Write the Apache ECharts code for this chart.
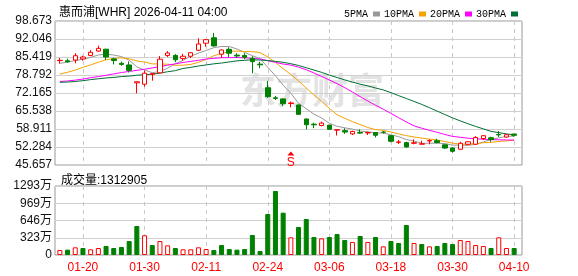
<!DOCTYPE html>
<html><head><meta charset="utf-8">
<script src="https://cdn.jsdelivr.net/npm/echarts@6/dist/echarts.min.js"></script>
<style>html,body{margin:0;padding:0;background:#fff}#c{width:578px;height:276px}</style>
</head><body><div id="c"></div>
<script>
const dates = ['01-14','01-15','01-16','01-20','01-21','01-22','01-23','01-26','01-27','01-28','01-29','01-30',
'02-02','02-03','02-04','02-05','02-06','02-09','02-10','02-11','02-12','02-13','02-17','02-18','02-19','02-20','02-23','02-24','02-25','02-26','02-27',
'03-02','03-03','03-04','03-05','03-06','03-09','03-10','03-11','03-12','03-13','03-16','03-17','03-18','03-19','03-20','03-23','03-24','03-25','03-26','03-27','03-30','03-31',
'04-01','04-02','04-06','04-07','04-08','04-09','04-10'];
const opens  = [84.1,84.05,84.3,84.7,86.0,87.6,88.3,84.7,83.1,82.5,75.9,75.4,79.05,79.6,86.0,86.0,84.9,85.7,87.9,90.5,
92.5,86.45,88.25,86.1,86.0,84.9,82.8,74.1,70.4,70.0,68.3,67.75,62.6,60.7,60.2,60.35,58.5,58.3,57.1,57.6,
57.45,57.6,57.75,56.45,54.0,53.9,53.65,53.3,54.5,54.6,53.1,51.9,51.45,53.3,53.3,55.4,55.7,56.9,55.95,57.05];
const closes = [84.2,83.7,85.9,85.4,87.15,88.6,85.4,84.1,82.7,80.5,76.3,79.45,79.35,84.6,86.9,84.4,85.7,87.0,90.2,91.8,
89.5,88.0,86.8,85.8,85.3,83.7,82.55,70.8,70.2,68.2,68.5,64.3,60.5,60.45,61.1,58.8,58.65,57.8,58.0,57.4,
57.6,56.6,57.7,54.4,54.15,52.3,53.85,53.5,54.65,53.95,51.9,50.7,53.65,54.2,55.8,56.45,55.0,56.75,56.8,56.6];
const lows   = [82.96,83.3,83.1,84.05,85.7,87.3,84.3,82.7,82.2,79.7,72.05,74.5,76.7,79.4,85.4,83.5,84.1,85.0,87.6,89.2,
89.2,85.1,85.3,85.05,84.6,79.4,81.3,70.4,69.6,67.3,66.9,64.1,58.8,59.2,59.9,58.65,56.5,57.1,56.7,57.1,
56.7,55.8,57.2,54.0,53.4,52.0,53.3,53.25,53.3,53.65,51.55,50.2,51.4,52.9,53.0,54.85,54.2,56.0,55.7,56.1];
const highs  = [85.05,84.8,86.8,85.9,88.0,89.6,88.4,85.2,83.7,83.8,76.4,80.4,79.5,85.8,87.6,86.5,86.6,87.2,92.3,92.0,
94.3,88.25,89.0,86.8,86.8,85.7,83.7,76.6,71.1,70.2,69.0,67.9,62.7,61.2,61.6,60.4,58.8,59.2,58.3,58.8,
57.9,57.8,58.15,56.6,54.85,54.2,55.1,54.6,55.1,55.35,53.15,52.2,54.2,54.5,56.3,56.6,56.1,58.2,57.05,57.1];
const volumes = [940000,1000000,1440000,1310000,1060000,1310000,1690000,1310000,1500000,2620000,5430000,3690000,1870000,2620000,1810000,1310000,1060000,1060000,1440000,1120000,
940000,1870000,1120000,1000000,1120000,3750000,750000,7680000,11990000,7930000,3310000,5250000,6750000,3370000,3120000,3370000,3940000,2810000,2440000,3560000,
2440000,3370000,1620000,2620000,2250000,5620000,2250000,2060000,1620000,1690000,2250000,2060000,2810000,2620000,1870000,1690000,1310000,3310000,1310000,1312905];
// moving-average values before enough visible closes exist
const ma5Head  = [83.1,83.5,84.1,84.6];
const ma10Head = [79.1,79.8,80.6,81.6,82.5,83.5,84.4,84.9,85.1];
const ma20Head = [76.4,76.6,76.9,77.3,77.8,78.2,78.7,79.2,79.7,80.1,80.5,80.9,81.4,81.9,82.4,82.9,83.4,83.8,84.2];
const ma30Head = [76.1,76.2,76.4,76.7,77.1,77.4,77.7,77.9,78.2,78.4,78.7,78.9,79.1,79.5,80.0,80.4,81.2,81.6,82.1,82.5,82.9,83.2,83.6,84.0,84.2,84.4,84.3,84.1,83.8];
const priceTicks = [45.657,52.284,58.911,65.538,72.165,78.792,85.419,92.046,98.673];
const volTicksWan = [0,323,646,969,1293];
const xLabelDates = ['01-20','01-30','02-11','02-24','03-06','03-18','03-30','04-10'];
const maNames = ['5PMA','10PMA','20PMA','30PMA'];
const titleText = '惠而浦[WHR] 2026-04-11 04:00';
const markDate = '02-27';

function ma(n, head){
  return closes.map((c,i)=>{
    if(i < head.length) return head[i];
    let s=0; for(let k=i-n+1;k<=i;k++) s+=closes[k];
    return +(s/n).toFixed(3);
  });
}
const RED='#ff0000', GREEN='#008000';
const candleData = dates.map((d,i)=>[opens[i],closes[i],lows[i],highs[i]]);
const volData = volumes.map((v,i)=>{
  const up = i===0 ? closes[i]>=opens[i] : closes[i]>=closes[i-1];
  return {value:v, itemStyle: up ? {color:'#fff',borderColor:RED,borderWidth:1} : {color:GREEN,borderColor:GREEN,borderWidth:1}};
});
const pMin = priceTicks[0], pMax = priceTicks[priceTicks.length-1], pStep = priceTicks[1]-priceTicks[0];
const vMax = volTicksWan[volTicksWan.length-1]*10000;
const showIdx = (idx,val)=> xLabelDates.indexOf(val) >= 0;
const FONT = 'Liberation Sans, Noto Sans CJK SC, sans-serif';

const chart = echarts.init(document.getElementById('c'), null, {renderer:'canvas'});
const maColors = ['#999999','#f5a300','#ff00ff','#006f35'];
const maSeries = [[5,ma5Head],[10,ma10Head],[20,ma20Head],[30,ma30Head]].map((p,k)=>({
  name: maNames[k], type:'line', xAxisIndex:1, yAxisIndex:1, data: ma(p[0],p[1]),
  showSymbol:false, symbol:'none', smooth:false, z:3,
  lineStyle:{color:maColors[k], width:1}, itemStyle:{color:maColors[k]}
}));

chart.setOption({
  animation:false,
  backgroundColor:'#fff',
  title:[
    {text:titleText, left:54, top:2, textStyle:{fontSize:12, fontWeight:'normal', color:'#000', fontFamily:FONT}},
    {text:'成交量:'+volumes[volumes.length-1], left:56, top:170, textStyle:{fontSize:12, fontWeight:'normal', color:'#000', fontFamily:FONT}}
  ],
  legend:{data:maNames, left:339, top:4, icon:'rect', itemWidth:7, itemHeight:5, itemGap:4, align:'right', selectedMode:false,
    textStyle:{fontSize:10, color:'#000', fontFamily:'Liberation Mono, monospace'}},
  graphic:[{type:'text', left:240, top:72, z:-1, silent:true,
    style:{text:'东方财富', font:'bold 36px "Noto Sans CJK SC"', fill:'#e3e3e3'}}],
  grid:[
    {left:55, top:21, width:467, height:144, show:true, borderColor:'#999', borderWidth:1, backgroundColor:'transparent'},
    {left:56, top:21, width:462, height:144},
    {left:55, top:186, width:467, height:69, show:true, borderColor:'#999', borderWidth:1, backgroundColor:'transparent'},
    {left:56, top:186, width:462, height:69}
  ],
  xAxis:[
    {type:'value', gridIndex:0, show:false, min:0, max:1},
    {type:'category', gridIndex:1, data:dates, boundaryGap:true,
      axisLine:{show:false}, axisTick:{show:false}, axisLabel:{show:false},
      splitLine:{show:true, interval:showIdx, alignWithLabel:true, lineStyle:{color:'#c8c8c8', type:[4,4], width:1}}},
    {type:'value', gridIndex:2, show:false, min:0, max:1},
    {type:'category', gridIndex:3, data:dates, boundaryGap:true,
      axisLine:{show:false}, axisTick:{show:false, alignWithLabel:true},
      axisLabel:{show:true, interval:showIdx, color:RED, fontSize:12, fontFamily:FONT, margin:7},
      splitLine:{show:true, interval:showIdx, alignWithLabel:true, lineStyle:{color:'#c8c8c8', type:[4,4], width:1}}}
  ],
  yAxis:[
    {type:'value', gridIndex:0, min:pMin, max:pMax, interval:pStep,
      axisLine:{show:false}, axisTick:{show:false},
      axisLabel:{color:'#111', fontSize:12, fontFamily:FONT, margin:3, formatter:v=>v.toFixed(3)},
      splitLine:{show:true, lineStyle:{color:'#d0d0d0', width:1}}},
    {type:'value', gridIndex:1, min:pMin, max:pMax, show:false, splitLine:{show:false}},
    {type:'value', gridIndex:2, min:volTicksWan[0]*10000, max:vMax, interval:vMax/4,
      axisLine:{show:false}, axisTick:{show:false},
      axisLabel:{color:'#111', fontSize:12, fontFamily:FONT, margin:3,
        formatter:v=> v===0 ? '0' : Math.floor(v/10000+1e-6)+'万'},
      splitLine:{show:true, lineStyle:{color:'#d0d0d0', width:1}}},
    {type:'value', gridIndex:3, min:0, max:vMax, show:false, splitLine:{show:false}}
  ],
  series:[
    {type:'candlestick', name:'K', xAxisIndex:1, yAxisIndex:1, data:candleData, barWidth:5, z:4,
      itemStyle:{color:'#fff', color0:GREEN, borderColor:RED, borderColor0:GREEN, borderWidth:1},
      markPoint:{symbol:'triangle', symbolSize:[7,4], silent:true,
        itemStyle:{color:RED},
        label:{show:true, position:'bottom', distance:1, formatter:'S', color:RED, fontSize:12, fontFamily:FONT},
        data:[{coord:[markDate, 49.9]}]}},
    ...maSeries,
    {type:'bar', name:'VOL', xAxisIndex:3, yAxisIndex:3, data:volData, barWidth:5, z:3}
  ]
});
</script></body></html>
